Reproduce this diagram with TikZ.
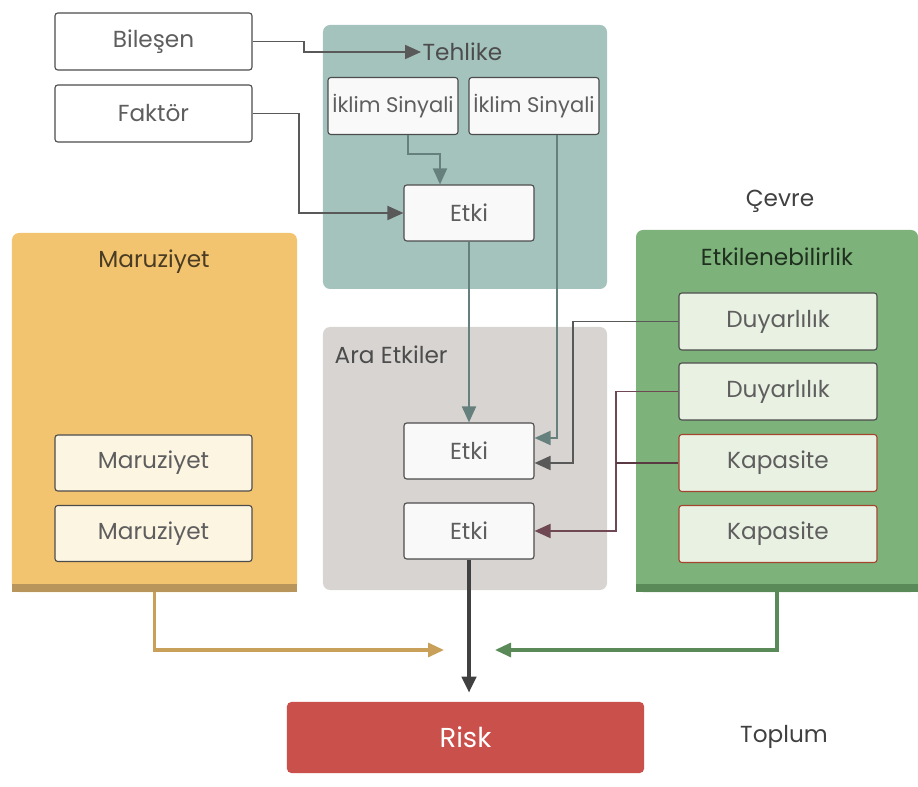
\documentclass[tikz,border=0pt]{standalone}
\usepackage{fontspec}
\setmainfont{Poppins}
\usetikzlibrary{arrows.meta}

\definecolor{tealbg}{HTML}{A5C3BD}
\definecolor{graybg}{HTML}{D8D4D1}
\definecolor{orangebg}{HTML}{F3C46F}
\definecolor{orangedk}{HTML}{B8955A}
\definecolor{greenbg}{HTML}{7DB37B}
\definecolor{greendk}{HTML}{5B8A59}
\definecolor{greenbox}{HTML}{E9F1E2}
\definecolor{creambox}{HTML}{FCF5E2}
\definecolor{kapline}{HTML}{A4452F}
\definecolor{riskred}{HTML}{C9504B}
\definecolor{tealarr}{HTML}{66817D}
\definecolor{maroonarr}{HTML}{6F4853}
\definecolor{orangearr}{HTML}{C9A059}
\definecolor{txtgray}{HTML}{5E5E5E}

\begin{document}
\begin{tikzpicture}[
  x=0.25mm, y=-0.25mm,
  font=\fontsize{16.5}{19}\selectfont,
  panel/.style={rounded corners=5pt, inner sep=0pt},
  box/.style={draw=black!70, thick, rounded corners=2pt, inner sep=0pt, fill=white,
              minimum width=49.25mm, minimum height=14.25mm, text=txtgray},
  ebox/.style={box, fill=gray!5, minimum width=32.5mm, minimum height=14mm},
  gbox/.style={box, fill=greenbox, minimum width=49.5mm},
  kbox/.style={gbox, draw=kapline},
  mbox/.style={box, fill=creambox, minimum height=14mm},
  ttl/.style={inner sep=1pt},
  arr/.style={-{Triangle[length=4mm, width=3.5mm]}, line width=1.4pt},
  tarr/.style={arr, tealarr},
  garr/.style={arr, black!65},
  marr/.style={arr, maroonarr},
  barr/.style={arr, line width=2.2pt}
]
\useasboundingbox (0,0) rectangle (918,787);
% ----- background panels -----
\node[panel, fill=orangebg, minimum width=71.25mm, minimum height=89.75mm] (maru) at (154.5,412.5) {};
\fill[orangedk] (maru.south west) rectangle ([yshift=2mm]maru.south east);
\node[panel, fill=tealbg, minimum width=71mm, minimum height=66mm]    (haz) at (465,157) {};
\node[panel, fill=graybg, minimum width=71mm, minimum height=65.75mm] (ara) at (465,458.5) {};
\node[panel, fill=greenbg, minimum width=70.5mm, minimum height=90.5mm] (env) at (777,411) {};
\fill[greendk] (env.south west) rectangle ([yshift=2mm]env.south east);
% ----- titles -----
\node[ttl, anchor=west, text=black!70]   (teh)  at (421,52)  {Tehlike};
\node[ttl, anchor=west, text=black!70]   (arat) at (333,355) {Ara Etkiler};
\node[ttl, text=black!60!orangedk]       (marut) at (154,262) {Maruziyet};
\node[ttl, text=black!65!greendk]        (etkl) at (777,257) {Etkilenebilirlik};
\node[ttl, text=black!75]                (cev)  at (780,201) {Çevre};
\node[ttl, text=black!75]                (top)  at (784,737) {Toplum};
% ----- boxes -----
\node[box]  (bil) at (153.5,41.5)  {Bileşen};
\node[box]  (fak) at (153.5,113.5) {Faktör};
\node[ebox, minimum height=14.25mm, font=\fontsize{15}{17}\selectfont] (sinA) at (393,106) {İklim Sinyali};
\node[ebox, minimum height=14.25mm, font=\fontsize{15}{17}\selectfont] (sinB) at (534,106) {İklim Sinyali};
\node[ebox] (etkA) at (469,213) {Etki};
\node[ebox] (etkB) at (469,451) {Etki};
\node[ebox] (etkC) at (469,531) {Etki};
\node[gbox] (duyA) at (778,321.5) {Duyarlılık};
\node[gbox] (duyB) at (778,391.5) {Duyarlılık};
\node[kbox] (kapA) at (778,463)   {Kapasite};
\node[kbox] (kapB) at (778,534)   {Kapasite};
\node[mbox] (marA) at (153.5,463)   {Maruziyet};
\node[mbox] (marB) at (153.5,533.5) {Maruziyet};
\node[panel, rounded corners=3pt, fill=riskred, minimum width=89.25mm, minimum height=17.75mm,
      text=white, font=\fontsize{19.5}{22}\selectfont] (risk) at (465.5,737.5) {Risk};
\coordinate (mix) at (469,650);
% ----- connectors -----
\draw[garr] (bil.east) -- ++(51,0) |- (teh.west);
\draw[garr] (fak.east) -- ++(46,0) |- (etkA.west);
\draw[tarr] ([xshift=3.75mm]sinA.south) -- ++(0,19) -| ([xshift=-7.25mm]etkA.north);
\draw[tarr] (etkA.south) -- (etkB.north);
\draw[tarr] ([xshift=5.75mm]sinB.south) |- ([yshift=3.25mm]etkB.east);
\draw[garr] (duyA.west) -- ++(-105,0) |- ([yshift=-3mm]etkB.east);
\draw[marr] (duyB.west) -- ++(-62,0) |- (etkC.east);
\draw[maroonarr!80!black, line width=1.4pt] (kapA.west) -- ++(-62,0);
\draw[barr, black!75, line width=2.8pt, shorten >=2.25mm] (etkC.south) -- (etkC.south |- risk.north);
\draw[barr, orangearr] (maru.south) |- ([xshift=-6.25mm]mix);
\draw[barr, greendk] (env.south) |- ([xshift=6.5mm]mix);
\end{tikzpicture}
\end{document}
